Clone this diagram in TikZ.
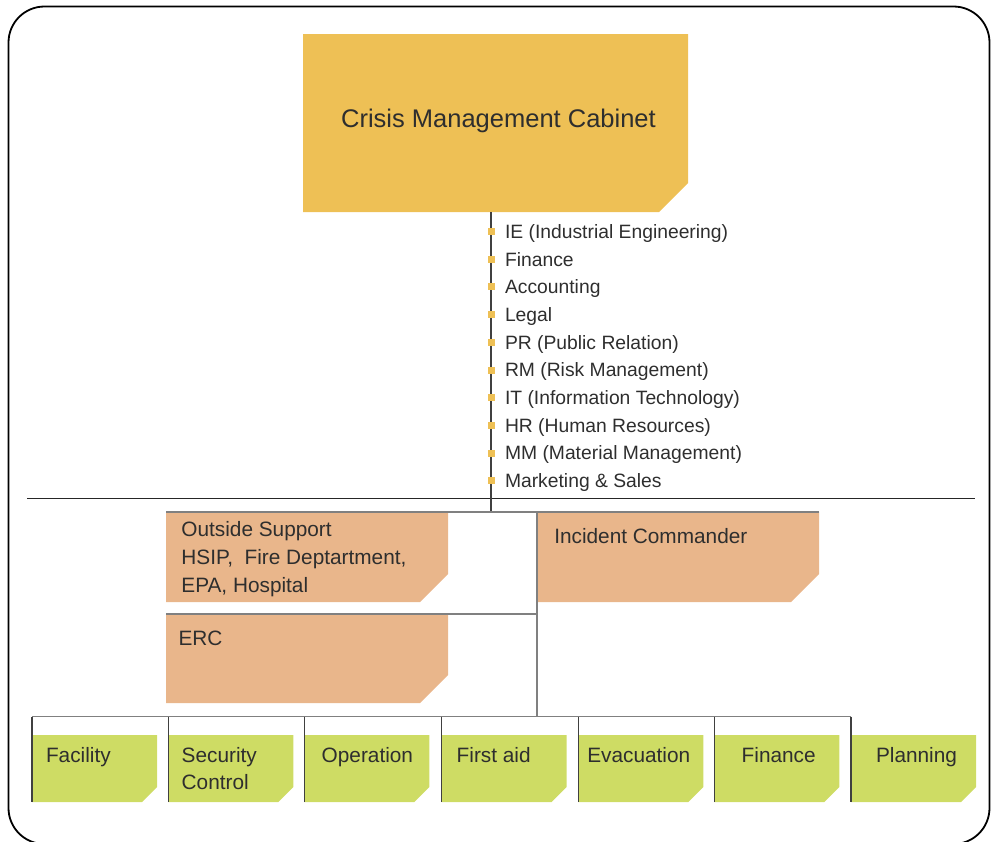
\documentclass[tikz,border=0pt]{standalone}
\usepackage{fontspec}
\setmainfont{Liberation Sans}
\definecolor{cabc}{HTML}{EEC055}
\definecolor{orc}{HTML}{E9B68B}
\definecolor{grc}{HTML}{CEDC64}
\definecolor{txtc}{HTML}{2E2E2E}
\definecolor{linec}{HTML}{808080}
\definecolor{darkc}{HTML}{404040}
\newcommand\cutbox[7]{%
  \node[boxnode, minimum width=#4pt, minimum height=#5pt, anchor=north west] (#1) at (#2,#3) {};
  \fill[#7] (#1.north west) -- (#1.north east) -- ([yshift=#6pt]#1.south east)
     -- ([xshift=-#6pt]#1.south east) -- (#1.south west) -- cycle;}
\begin{document}
\begin{tikzpicture}[x=1pt,y=-1pt,
  boxnode/.style={inner sep=0pt, outer sep=0pt},
  txt/.style={inner sep=0pt, outer sep=0pt, text=txtc, font=\fontsize{20.8}{28}\selectfont, anchor=base west},
  lst/.style={inner sep=0pt, outer sep=0pt, text=txtc, font=\fontsize{19.3}{23}\selectfont, anchor=base west},
  bul/.style={fill=cabc, minimum size=7pt, inner sep=0pt, outer sep=0pt},
  conn/.style={draw=linec, line width=1.3pt},
  vline/.style={draw=darkc, line width=1.1pt},
  stemline/.style={draw=darkc, line width=1.1pt},
  sepline/.style={draw=black!85, line width=1.2pt},
]
\useasboundingbox (0,0) rectangle (996,841);
\draw[line width=1.8pt, rounded corners=36pt] (8.5,6.5) rectangle (989.5,844);

% boxes
\cutbox{cab}{303}{34}{385}{178}{29}{cabc}
\cutbox{os}{166}{512}{282}{90}{28}{orc}
\cutbox{erc}{166}{614}{282}{89}{28}{orc}
\cutbox{ic}{537}{512}{282}{90}{28}{orc}
\foreach \n/\x in {g1/32,g2/168.3,g3/304.3,g4/441.7,g5/578.3,g6/714.3,g7/851}{
  \cutbox{\n}{\x}{735}{125}{67}{15}{grc}
}

% separator
\coordinate (sepL) at (27,498.5);
\coordinate (sepR) at (975,498.5);
\draw[sepline] (sepL) -- (sepR);

% stem with bullet list
\coordinate (stem) at ([xshift=-4.5pt]cab.south);
\draw[stemline] (stem) -- (stem |- os.north);
\foreach \i/\t in {1/IE (Industrial Engineering),2/Finance,3/Accounting,4/Legal,
  5/PR (Public Relation),6/RM (Risk Management),7/IT (Information Technology),
  8/HR (Human Resources),9/MM (Material Management),10/Marketing \& Sales}{
  \pgfmathsetmacro\yb{238.3+27.7*(\i-1)}
  \node[bul] (b\i) at (491.2,\yb-6.8) {};
  \node[lst] (l\i) at (505,\yb) {\t};
}

% connectors
\coordinate (bus) at (0,716.7);
\draw[conn] (os.north west) -- (ic.north east);
\draw[conn] (erc.north west) -- (erc.north west -| ic.west);
\draw[conn] (ic.north west) -- (ic.north west |- bus);
\draw[conn] (g1.north west |- bus) -- (g7.north west |- bus);
\foreach \n in {g1,g2,g3,g4,g5,g6,g7}{
  \draw[vline] (\n.north west |- bus) -- (\n.south west);
}

% texts
\node[txt, anchor=base, font=\fontsize{25.5}{30}\selectfont] (tcab) at (498.5,127) {Crisis Management Cabinet};
\node[txt] (tos1) at (181.4,536.6) {Outside Support};
\node[txt] (tos2) at (181.4,564.6) {HSIP,~ Fire Deptartment,};
\node[txt] (tos3) at (181.4,592.6) {EPA, Hospital};
\node[txt] (terc) at (178.6,645) {ERC};
\node[txt] (tic) at (554.3,543.3) {Incident Commander};
\node[txt] (tg1) at (46,762.3) {Facility};
\node[txt] (tg2a) at (181.7,762.3) {Security};
\node[txt] (tg2b) at (181.7,789.3) {Control};
\node[txt] (tg3) at (321.7,762.3) {Operation};
\node[txt] (tg4) at (456.7,762.3) {First aid};
\node[txt] (tg5) at (587.3,762.3) {Evacuation};
\node[txt] (tg6) at (741.7,762.3) {Finance};
\node[txt] (tg7) at (876,762.3) {Planning};
\end{tikzpicture}
\end{document}
